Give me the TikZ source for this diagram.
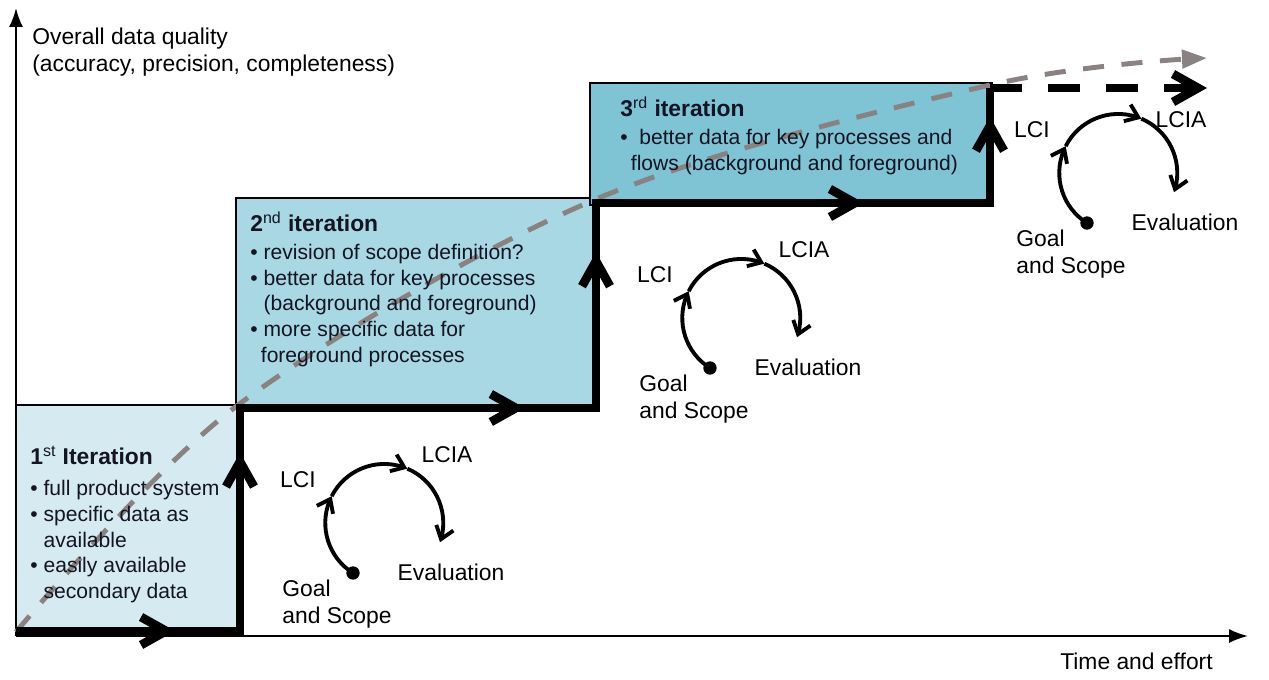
\documentclass[tikz,border=0pt]{standalone}
\usepackage{fontspec}
\setmainfont{Liberation Sans}
\usetikzlibrary{arrows.meta, bending, decorations.markings, positioning}
\definecolor{FirstColor}{RGB}{214,235,241}
\definecolor{SecondColor}{RGB}{168,216,228}
\definecolor{ThirdColor}{RGB}{126,196,213}
\definecolor{TrendColor}{RGB}{138,130,128}
\definecolor{TextColor}{RGB}{20,20,35}

\begin{document}
\begin{tikzpicture}[x=0.02cm, y=0.02cm,
    iterbox/.style={draw=black, line width=0.8pt},
    stairs/.style={line width=5pt, line join=miter},
    barb/.style={-{Straight Barb[length=5mm, width=5.6mm]}},
    midarrow/.style={postaction={decorate, decoration={markings,
        mark=at position #1 with {\arrow{Straight Barb[length=5mm, width=5.6mm]}}}}},
    cycle/.style={line width=2.2pt, -{Straight Barb[length=2.4mm, width=3.6mm]}},
    trend/.style={TrendColor, line width=2.8pt, dash pattern=on 12pt off 10pt,
        -{Triangle[length=5mm, width=3.6mm, quick]}},
    boxtext/.style={align=left, inner sep=0pt, text=TextColor,
        font=\fontsize{12}{14.7}\selectfont},
    label/.style={inner sep=0pt, font=\fontsize{13}{15.2}\selectfont}]
  \useasboundingbox (0,0) rectangle (1269,-680);

  % iteration boxes
  \fill[FirstColor] (16,-405) rectangle (240,-632);
  \draw[iterbox] (16,-405) -- (240,-405) -- (240,-632);
  \fill[SecondColor] (236,-198) rectangle (596,-408);
  \draw[iterbox] (236,-198) rectangle (596,-408);
  \fill[ThirdColor] (590,-83) rectangle (992,-205);
  \draw[iterbox] (590,-83) rectangle (992,-205);

  % axes
  \coordinate (origin) at (16,-636);
  \coordinate (ytip) at (16,-8);
  \coordinate (xtip) at (1248,-636);
  \draw[line width=1.1pt, -{Latex[length=3.8mm, width=2.8mm]}] (origin) -- (ytip);
  \draw[line width=1.1pt, -{Latex[length=3.8mm, width=2.8mm]}] (origin) -- (xtip);
  \node[label, anchor=north west, align=left] (quality) at (32,-28)
    {Overall data quality\\(accuracy, precision, completeness)};
  \node[label, anchor=north east] (effort) at (1213,-653) {Time and effort};

  % trend of data quality
  \draw[trend] plot[smooth, tension=0.55] coordinates
    {(16,-632) (238,-405) (594,-200) (990,-85) (1207,-58)};

  % box texts
  \node[boxtext, anchor=north west] (iter1) at (30,-446)
    {{\fontsize{13}{14.7}\selectfont\bfseries 1\textsuperscript{\mdseries st} Iteration}\\[3pt]
     \textbullet\ full product system\\
     \textbullet\ specific data as\\
     \phantom{\textbullet\ }available\\
     \textbullet\ easily available\\
     \phantom{\textbullet\ }secondary data};
  \node[boxtext, anchor=north west] (iter2) at (250,-212)
    {{\fontsize{13}{14.7}\selectfont\bfseries 2\textsuperscript{\mdseries nd} iteration}\\[1pt]
     \textbullet\ revision of scope definition?\\
     \textbullet\ better data for key processes\\
     \phantom{\textbullet\ }(background and foreground)\\
     \textbullet\ more specific data for\\
     \hspace{6pt}foreground processes};
  \node[boxtext, anchor=north west] (iter3) at (620,-97)
    {{\fontsize{13}{14.7}\selectfont\bfseries 3\textsuperscript{\mdseries rd} iteration}\\[1pt]
     \textbullet\ \ better data for key processes and\\
     \hspace{6pt}flows (background and foreground)};

  % staircase of iterations
  \coordinate (s0) at (16,-631);
  \coordinate (s1) at (240,-631);
  \coordinate (s2) at (240,-408);
  \coordinate (s3) at (596,-408);
  \coordinate (s4) at (596,-203);
  \coordinate (s5) at (990,-203);
  \coordinate (s6) at (990,-88);
  \coordinate (next) at (1207,-88);
  \draw[stairs] (s0) -- (s1) -- (s2) -- (s3) -- (s4) -- (s5) -- (s6);
  \foreach \a/\b/\p in {s0/s1/0.71, s1/s2/0.80, s2/s3/0.80, s3/s4/0.76, s4/s5/0.68, s5/s6/0.75}
    \path[stairs, midarrow=\p] (\a) -- (\b);
  \draw[stairs, barb, dash pattern=on 18pt off 15pt] (s6) -- (next);

  % LCA cycles
  \foreach \i/\dx/\dy/\ly in {1/0/0/0, 2/357/205/0, 3/734/350/-15} {
    \begin{scope}[shift={(\dx,\dy)}]
      \coordinate (start\i) at (353,-573);
      \fill (start\i) circle (3.8pt);
      \draw[cycle] (start\i) arc[start angle=238, end angle=153, radius=59] coordinate (toinv\i);
      \draw[cycle] (toinv\i) arc[start angle=153, end angle=67, radius=59] coordinate (toimp\i);
      \draw[cycle] (toimp\i) arc[start angle=67, end angle=-19, radius=59];
      \node[label] (lci\i) at (298,-480) {LCI};
      \node[label] (lcia\i) at (447,-455+\ly) {LCIA};
      \node[label] (eval\i) at (451,-572) {Evaluation};
      \node[label, align=left, anchor=north west] (goal\i) at (282,-580) {Goal\\and Scope};
    \end{scope}
  }
\end{tikzpicture}
\end{document}
